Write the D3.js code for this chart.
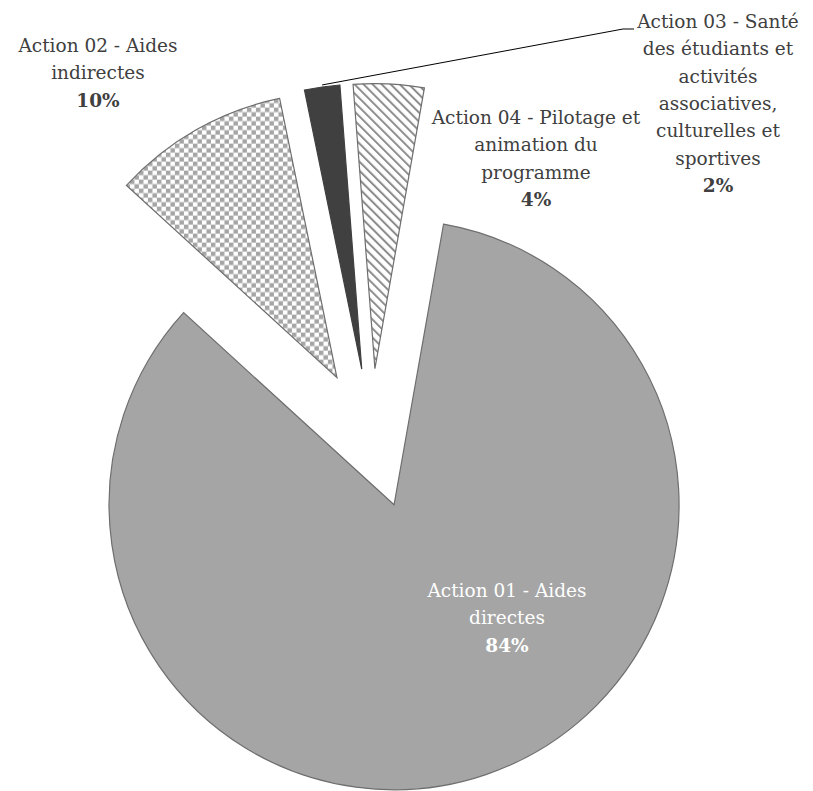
<!DOCTYPE html>
<html>
<head>
<meta charset="utf-8">
<script src="https://cdn.jsdelivr.net/npm/d3@7/dist/d3.min.js"></script>
<style>
  html, body { margin: 0; padding: 0; background: #fff; }
  svg { display: block; }
</style>
</head>
<body>
<svg id="chart" width="813" height="791"></svg>
<script>
// Répartition des crédits du programme par action
const categories = [
  "Action 01 - Aides directes",
  "Action 02 - Aides indirectes",
  "Action 03 - Santé des étudiants et activités associatives, culturelles et sportives",
  "Action 04 - Pilotage et animation du programme"
];
const shares = [84, 10, 2, 4];
const percentLabels = ["84%", "10%", "2%", "4%"];
const labelLines = [
  ["Action 01 - Aides", "directes"],
  ["Action 02 - Aides", "indirectes"],
  ["Action 03 - Santé", "des étudiants et", "activités", "associatives,", "culturelles et", "sportives"],
  ["Action 04 - Pilotage et", "animation du", "programme"]
];

const svg = d3.select("#chart");
const defs = svg.append("defs");

// checkerboard fill
const cs = 4.5;
const checker = defs.append("pattern")
  .attr("id", "checker").attr("patternUnits", "userSpaceOnUse")
  .attr("width", 2 * cs).attr("height", 2 * cs);
checker.append("rect").attr("width", 2 * cs).attr("height", 2 * cs).attr("fill", "#ffffff");
checker.append("rect").attr("width", cs).attr("height", cs).attr("fill", "#a5a5a5");
checker.append("rect").attr("x", cs).attr("y", cs).attr("width", cs).attr("height", cs).attr("fill", "#a5a5a5");

// wide downward diagonal hatch
const hs = 6.4;
const hatch = defs.append("pattern")
  .attr("id", "hatch").attr("patternUnits", "userSpaceOnUse")
  .attr("width", hs).attr("height", hs)
  .attr("patternTransform", "rotate(-45)");
hatch.append("rect").attr("width", hs).attr("height", hs).attr("fill", "#ffffff");
hatch.append("rect").attr("width", 2).attr("height", hs).attr("fill", "#8c8c8c");

const fills = ["#a5a5a5", "url(#checker)", "#404040", "url(#hatch)"];

const cx = 371.5, cy = 438.5;
const radius = 285;
const explode = 70;
const startAngle = 10 * Math.PI / 180;

const pie = d3.pie().sort(null).value(d => d)
  .startAngle(startAngle).endAngle(startAngle + 2 * Math.PI);
const arcs = pie(shares);
const arc = d3.arc().innerRadius(0).outerRadius(radius);

const offset = a => {
  const m = (a.startAngle + a.endAngle) / 2;
  return [explode * Math.sin(m), -explode * Math.cos(m)];
};

const g = svg.append("g").attr("transform", `translate(${cx},${cy})`);

g.selectAll("path.slice")
  .data(arcs)
  .join("path")
  .attr("class", "slice")
  .attr("transform", d => { const [ox, oy] = offset(d); return `translate(${ox},${oy})`; })
  .attr("d", arc)
  .attr("fill", (d, i) => fills[i])
  .attr("stroke", (d, i) => i === 2 ? "#404040" : "#6e6e6e")
  .attr("stroke-width", 1.2)
  .attr("stroke-linejoin", "miter");

// label blocks: anchor x, first baseline y
const labelPos = [
  { x: 507, y: 597, color: "#ffffff" },
  { x: 98, y: 52, color: "#404040" },
  { x: 718, y: 28, color: "#404040" },
  { x: 536, y: 124, color: "#404040" }
];
const lineGap = 27.3;

const labels = svg.append("g").attr("class", "labels");
labelLines.forEach((lines, i) => {
  const p = labelPos[i];
  const t = labels.append("text")
    .attr("text-anchor", "middle")
    .attr("fill", p.color)
    .attr("font-family", "'DejaVu Serif', 'Liberation Serif', serif")
    .attr("font-size", 18.5);
  lines.concat([percentLabels[i]]).forEach((ln, k) => {
    t.append("tspan")
      .attr("x", p.x)
      .attr("y", p.y + k * lineGap)
      .attr("font-weight", k === lines.length ? "bold" : "normal")
      .text(ln);
  });
});

// leader line for the small slice
const small = arcs[2];
const [sox, soy] = offset(small);
const mid = (small.startAngle + small.endAngle) / 2;
const tip = [cx + sox + radius * Math.sin(mid), cy + soy - radius * Math.cos(mid) - 2];
svg.append("path")
  .attr("d", d3.line()([tip, [623, 29], [634, 29]]))
  .attr("fill", "none")
  .attr("stroke", "#000000")
  .attr("stroke-width", 1);
</script>
</body>
</html>
